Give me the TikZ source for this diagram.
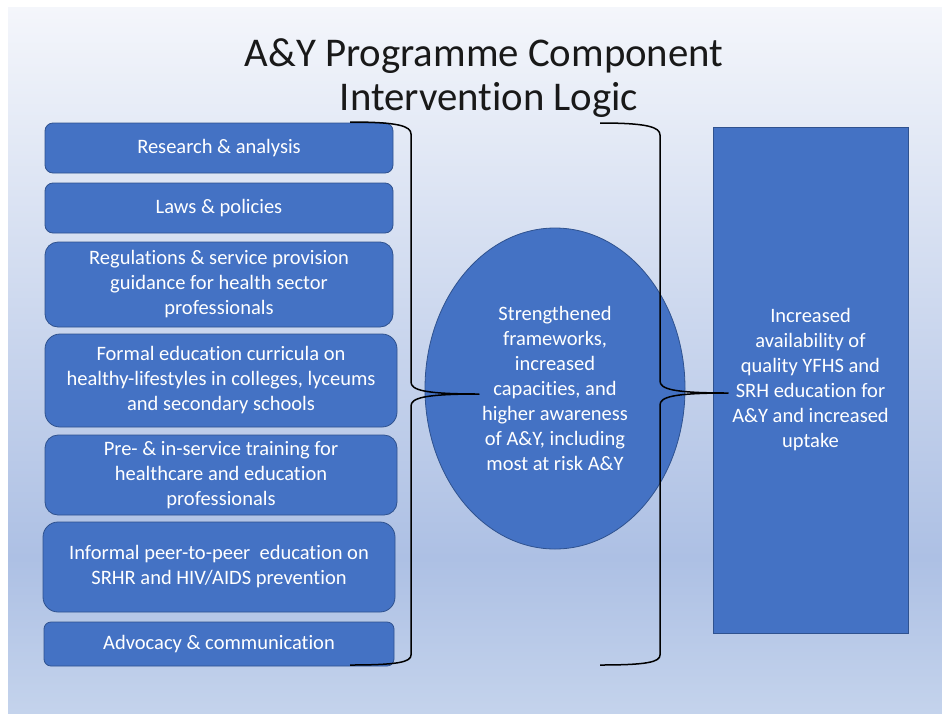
\documentclass[tikz,border=0pt]{standalone}
\usepackage{fontspec}
\setmainfont{Carlito}[Ligatures=NoCommon]
\usetikzlibrary{shapes.geometric}
\definecolor{boxblue}{HTML}{4472C4}
\definecolor{boxedge}{HTML}{2F528F}
\definecolor{bgtop}{RGB}{244,246,251}
\definecolor{bgmid}{RGB}{173,192,228}
\definecolor{bgbot}{RGB}{196,211,236}
\definecolor{titlecol}{RGB}{25,25,25}
\pgfdeclareverticalshading{slidebg}{100bp}{color(0bp)=(bgbot); color(25bp)=(bgbot); color(36bp)=(bgmid); color(75bp)=(bgtop); color(100bp)=(bgtop)}
\tikzset{
  blk/.style={draw=boxedge, line width=0.8pt, fill=boxblue, text=white, align=center, inner sep=0pt,
    font=\fontsize{20.5}{25}\selectfont},
  rbox/.style={blk, rectangle, minimum width=348pt, minimum height=#1pt},
  brace/.style={draw=black, line width=1.5pt, line join=round},
  ttl/.style={text=titlecol, font=\fontsize{40.8}{44}\selectfont, inner sep=0pt, anchor=base}
}
\begin{document}
\begin{tikzpicture}[x=1pt,y=-1pt]
\useasboundingbox (0,0) rectangle (942,713);
\fill[white] (0,0) rectangle (942,713);
\shade[shading=slidebg] (8,7) rectangle (942,713);

\node[ttl] (t1) at (484,66.7) {A\&Y Programme Component};
\node[ttl] (t2) at (489,110) {Intervention Logic};

\node[rbox=50, rounded corners=8pt] (b1) at (219,148) {Research \& analysis};
\node[rbox=50, rounded corners=8pt] (b2) at (219,208) {Laws \& policies};
\node[rbox=85, rounded corners=13pt] (b3) at (219,284.5) {Regulations \& service provision\\guidance for health sector\\professionals};
\node[rbox=93, minimum width=352pt, rounded corners=15pt] (b4) at (221,380.5) {Formal education curricula on\\healthy-lifestyles in colleges, lyceums\\and secondary schools};
\node[rbox=80, minimum width=352pt, rounded corners=13pt] (b5) at (221,475) {Pre- \& in-service training for\\healthcare and education\\professionals};
\node[rbox=90, minimum width=352pt, rounded corners=15pt] (b6) at (219,567) {Informal peer-to-peer\ \ education on\\SRHR and HIV/AIDS prevention};
\node[rbox=44, minimum width=350pt, rounded corners=7pt] (b7) at (219,644) {Advocacy \& communication};

\node[blk, ellipse, minimum width=260pt, minimum height=321pt] (mid) at (555,388.5) {Strengthened\\frameworks,\\increased\\capacities, and\\higher awareness\\of A\&Y, including\\most at risk A\&Y};

\node[blk, rectangle, minimum width=195pt, minimum height=506pt] (out) at (810.5,380) {Increased\\availability of\\quality YFHS and\\SRH education for\\A\&Y and increased\\uptake};

% left brace
\draw[brace] (350,122) .. controls (398,122) and (411,126) .. (411,134) -- (411,382)
  .. controls (411,390) and (424,394) .. (479,394)
  .. controls (424,394) and (411,398) .. (411,406) -- (411,655)
  .. controls (411,662) and (398,665) .. (350,665);
% right brace
\draw[brace] (600,123) .. controls (647,123) and (660,127) .. (660,135) -- (660,381)
  .. controls (660,389) and (673,393) .. (728,393)
  .. controls (673,393) and (660,397) .. (660,405) -- (660,655)
  .. controls (660,662) and (647,665) .. (600,665);
\end{tikzpicture}
\end{document}
